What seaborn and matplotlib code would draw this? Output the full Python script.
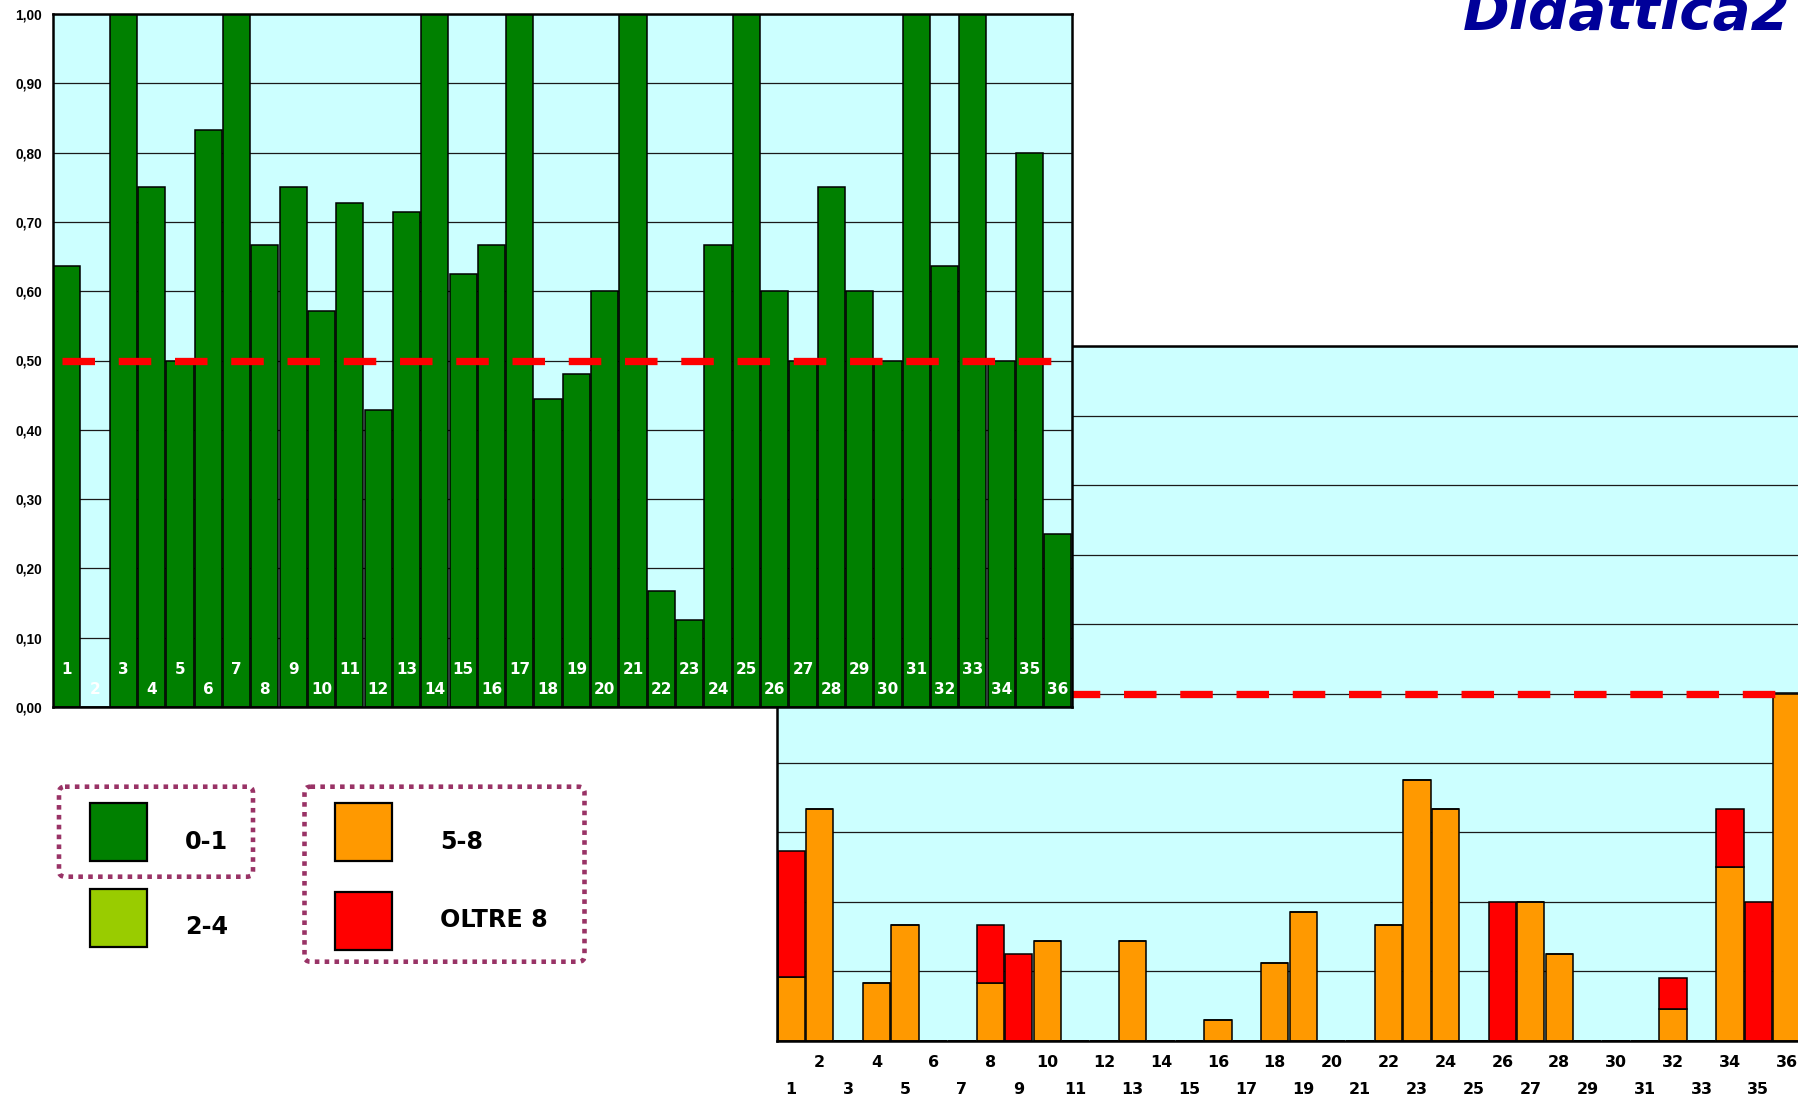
import matplotlib
matplotlib.use("Agg")
import matplotlib.pyplot as plt
import numpy as np
import pandas as pd
import seaborn as sns
from matplotlib.patches import FancyBboxPatch, Rectangle

# ---- data -------------------------------------------------------------
students = list(range(1, 37))

# share of answers in the "0-1" band (upper panel)
share_0_1 = [0.636, 0.0, 1.0, 0.75, 0.5, 0.833, 1.0, 0.667, 0.75, 0.571,
             0.727, 0.429, 0.714, 1.0, 0.625, 0.667, 1.0, 0.444, 0.481, 0.6,
             1.0, 0.167, 0.125, 0.667, 1.0, 0.6, 0.5, 0.75, 0.6, 0.5,
             1.0, 0.636, 1.0, 0.5, 0.8, 0.25]

# share of answers in the "5-8" band (lower panel, bottom segment)
share_5_8 = [0.091, 0.333, 0.0, 0.083, 0.167, 0.0, 0.0, 0.083, 0.0, 0.143,
             0.0, 0.0, 0.143, 0.0, 0.0, 0.03, 0.0, 0.111, 0.185, 0.0,
             0.0, 0.167, 0.375, 0.333, 0.0, 0.0, 0.2, 0.125, 0.0, 0.0,
             0.0, 0.045, 0.0, 0.25, 0.0, 0.5]

# share of answers "OLTRE 8" (lower panel, top segment)
share_over_8 = [0.182, 0.0, 0.0, 0.0, 0.0, 0.0, 0.0, 0.083, 0.125, 0.0,
                0.0, 0.0, 0.0, 0.0, 0.0, 0.0, 0.0, 0.0, 0.0, 0.0,
                0.0, 0.0, 0.0, 0.0, 0.0, 0.2, 0.0, 0.0, 0.0, 0.0,
                0.0, 0.045, 0.0, 0.083, 0.2, 0.0]

threshold = 0.5

ytick_values = [0.0, 0.1, 0.2, 0.3, 0.4, 0.5, 0.6, 0.7, 0.8, 0.9, 1.0]
ytick_labels = ["0,00", "0,10", "0,20", "0,30", "0,40", "0,50",
                "0,60", "0,70", "0,80", "0,90", "1,00"]

legend_labels = ["0-1", "2-4", "5-8", "OLTRE 8"]
title_text = "Didattica2"

# ---- colours ----------------------------------------------------------
GREEN = "#008000"
LIME = "#99CC00"
ORANGE = "#FF9900"
RED = "#FF0000"
PANEL = "#CCFFFF"
FRAME = "#993366"
NAVY = "#000099"

df = pd.DataFrame({"student": students, "s01": share_0_1,
                   "s58": share_5_8, "s8": share_over_8})

W, H = 1798, 1099
fig = plt.figure(figsize=(W / 100, H / 100), dpi=100)


def px_axes(left, top, right, bottom, **kw):
    return fig.add_axes([left / W, 1 - bottom / H, (right - left) / W,
                         (bottom - top) / H], **kw)


ax_low = px_axes(777, 346.5, 1801, 1040.5)
ax_top = px_axes(52.5, 14, 1072, 707)

bar_kw = dict(native_scale=True, saturation=1, width=0.96, errorbar=None,
              edgecolor="black", linewidth=1.1)

sns.barplot(data=df, x="student", y="s01", color=GREEN, ax=ax_top, **bar_kw)
sns.barplot(data=df, x="student", y="s58", color=ORANGE, ax=ax_low, **bar_kw)
sns.barplot(data=df, x="student", y="s8", color=RED, ax=ax_low,
            bottom=np.asarray(share_5_8), **bar_kw)


def style_panel(ax):
    ax.set_facecolor(PANEL)
    ax.set_xlim(0.5, 36.5)
    ax.set_ylim(0, 1)
    ax.set_xticks([])
    ax.set_xlabel("")
    ax.set_ylabel("")
    ax.yaxis.grid(True, color="#1a1a1a", lw=0.9)
    ax.xaxis.grid(False)
    ax.set_axisbelow(True)
    for s in ax.spines.values():
        s.set_color("black")
        s.set_linewidth(1.8)
    ax.tick_params(length=0)
    # dashed reference level
    ax.plot([0.83, 36.5], [threshold, threshold], color=RED, lw=5.26,
            dashes=(4.45, 3.25), dash_capstyle="butt", zorder=3)


style_panel(ax_top)
style_panel(ax_low)

ax_top.set_yticks(ytick_values, labels=ytick_labels, fontsize=9.9,
                  fontweight="bold", fontfamily="Liberation Sans")
ax_top.tick_params(axis="y", pad=7.6)
ax_low.set_yticks(ytick_values)
ax_low.tick_params(axis="y", labelleft=False)

# student numbers inside the upper bars, staggered
for s in students:
    ax_top.text(s, 0.0534 if s % 2 else 0.0255, str(s), color="white",
                ha="center", va="center", fontsize=11, fontweight="bold",
                fontfamily="DejaVu Sans", zorder=4)

# student numbers below the lower panel, staggered
xt = ax_low.get_xaxis_transform()
for s in students:
    ax_low.text(s, -0.0706 if s % 2 else -0.0317, str(s), transform=xt,
                ha="center", va="center", fontsize=11.4, fontweight="bold",
                fontfamily="DejaVu Sans", clip_on=False)

# ---- overlay for title and legend ------------------------------------
ov = fig.add_axes([0, 0, 1, 1], zorder=10)
ov.set_xlim(0, W)
ov.set_ylim(H, 0)
ov.axis("off")
ov.patch.set_alpha(0)

ov.text(1791, 29.3, title_text, ha="right", va="baseline", fontsize=40.5,
        fontweight="bold", fontstyle="italic", color=NAVY,
        fontfamily="DejaVu Sans")

dotted = dict(fill=False, ec=FRAME, lw=3.3, ls=(0, (1, 1.15)),
              boxstyle="round,pad=0,rounding_size=6")
ov.add_patch(FancyBboxPatch((59, 786.7), 194, 90, **dotted))
ov.add_patch(FancyBboxPatch((304.5, 786.7), 280, 175, **dotted))

swatches = [(89.8, 803, GREEN), (89.8, 889, LIME),
            (335, 803, ORANGE), (335, 892.3, RED)]
text_pos = [(185, 841.7), (185, 926.7), (440, 841.7), (440, 920)]
for (sx, sy, col), (tx, ty), lab in zip(swatches, text_pos, legend_labels):
    ov.add_patch(Rectangle((sx, sy), 57.3, 57.5, fc=col, ec="black", lw=1.6))
    ov.text(tx, ty, lab, ha="left", va="center", fontsize=17.2,
            fontweight="bold", fontfamily="DejaVu Sans")

fig.savefig("out.png", dpi=100)
